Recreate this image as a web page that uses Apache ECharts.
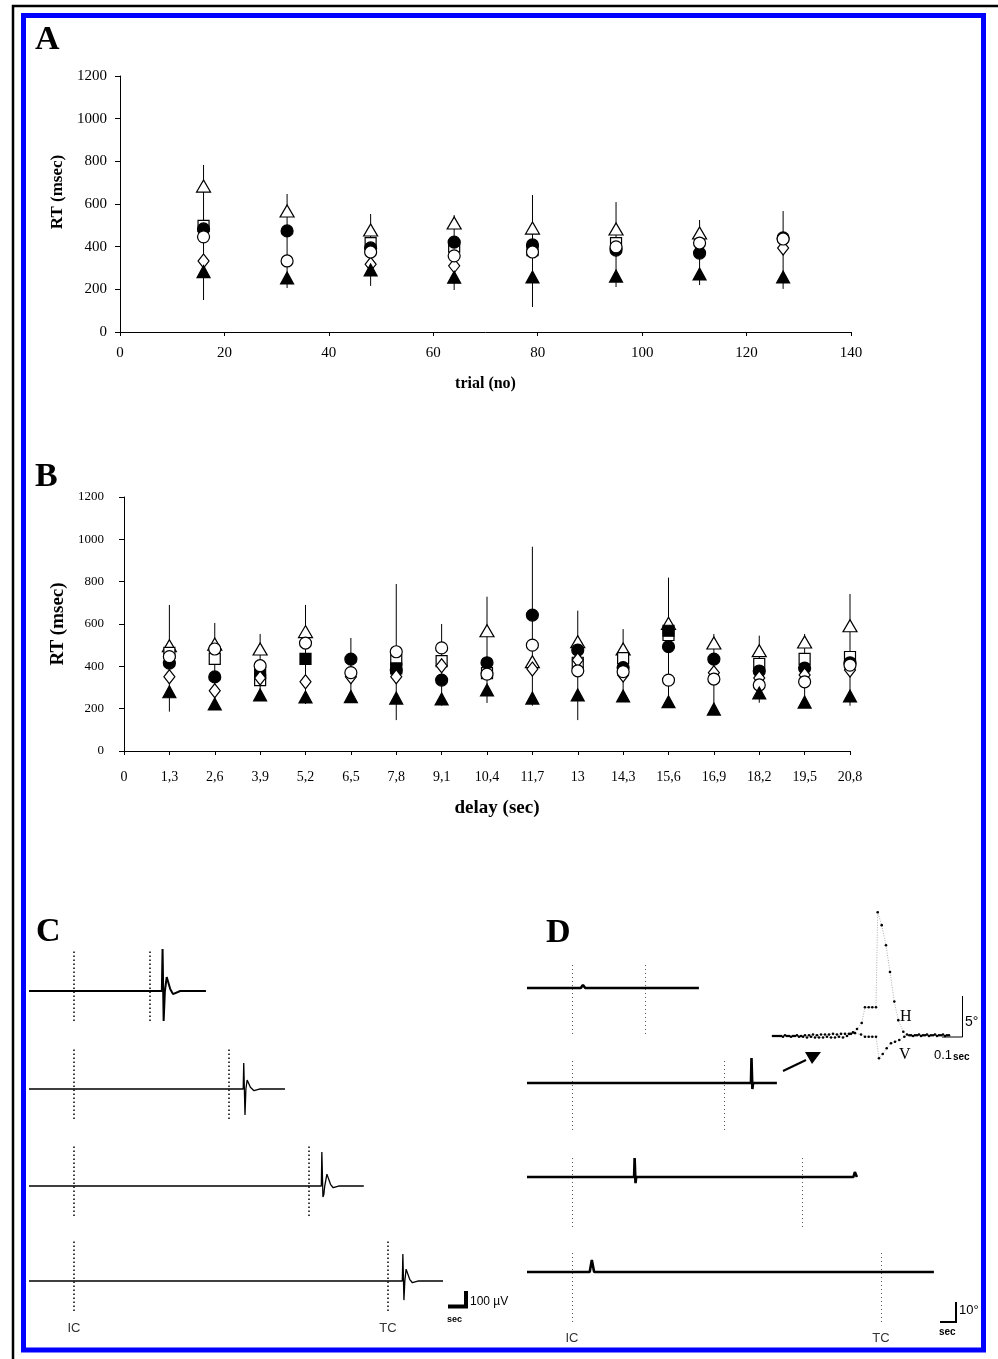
<!DOCTYPE html>
<html><head><meta charset="utf-8">
<script src="https://cdn.jsdelivr.net/npm/echarts/dist/echarts.min.js"></script>
<style>html,body{margin:0;padding:0;background:#fff}#c{width:998px;height:1359px}</style>
</head><body><div id="c"></div><script>
const SERIF = "'Liberation Serif','Times New Roman',serif";
const SANS = "'Liberation Sans',Arial,sans-serif";

// ---------- Panel A data (RT msec vs trial no) ----------
const trialX      = [16, 32, 48, 64, 79, 95, 111, 127];
const aOpenTri    = [684, 567, 478, 511, 487, 483, 464, null];
const aOpenSq     = [497, null, 417, 400, 384, 417, null, null];
const aFillCirc   = [483, 474, 394, 421, 408, 384, 370, 441];
const aDiamond    = [333, null, 318, 310, null, null, null, 394];
const aOpenCirc   = [446, 333, 375, 357, 375, 399, 417, 436];
const aFillTri    = [283, 253, 291, 257, 258, 262, 272, 258];
const aErrLow     = [150, 206, 216, 197, 117, 211, 220, 202];
const aErrHigh    = [783, 647, 553, 548, 642, 609, 525, 567];

// ---------- Panel B data (RT msec vs delay sec) ----------
const delayLabels = ['0','1,3','2,6','3,9','5,2','6,5','7,8','9,1','10,4','11,7','13','14,3','15,6','16,9','18,2','19,5','20,8'];
// values for delays 1,3 ... 20,8
const bOpenTri    = [497, 505, 482, 564, null, null, null, 568, 422, 516, 482, 603, 510, 474, 515, 592];
const bOpenSq     = [464, 435, 335, null, null, 430, 425, 368, null, 417, 439, 548, null, 411, 435, 444];
const bFillSq     = [null, null, 368, 435, null, 390, null, null, null, null, null, 568, null, null, null, null];
const bFillCirc   = [415, 350, null, null, 434, 383, 335, 417, 642, 477, 394, 493, 434, 378, 392, 417];
const bDiamond    = [351, 285, 345, 327, 351, 351, 403, null, 387, 430, 359, null, 370, 345, 359, 383];
const bOpenCirc   = [446, 482, 403, 510, 370, 469, 487, 363, 500, 379, 375, 335, 340, 312, 327, 406];
const bFillTri    = [280, 222, 265, 255, 257, 250, 246, 288, 250, 265, 260, 233, 198, 274, 231, 260];
const bErrLow     = [186, 200, 241, 222, 227, 146, 214, 227, 214, 146, 233, 203, 179, 228, 203, 214];
const bErrHigh    = [690, 605, 553, 690, 534, 789, 600, 729, 965, 663, 576, 819, 553, 545, 553, 742];

// ---------- Panel C traces: [time s from IC, microvolts] ----------
const cTrace1 = [[-2.5,0],[4.88,0],[4.92,247],[4.98,-176],[5.05,0],[5.15,82],[5.35,10],[5.5,-18],[5.9,0],[7.33,0]];
const cTrace2 = [[-2.5,0],[9.40,0],[9.43,153],[9.50,-153],[9.55,0],[9.62,53],[9.8,10],[10.0,-10],[10.3,0],[11.72,0]];
const cTrace3 = [[-2.5,0],[13.74,0],[13.77,200],[13.83,-65],[13.88,-50],[13.93,0],[14.05,70],[14.25,10],[14.4,-10],[14.7,0],[16.1,0]];
const cTrace4 = [[-2.5,0],[18.24,0],[18.27,159],[18.33,-112],[18.38,0],[18.45,70],[18.65,10],[18.8,-10],[19.1,0],[20.5,0]];
const cTC = [4.22, 8.61, 13.06, 17.44];

// ---------- Panel D traces: [time s from IC, degrees] ----------
const dTrace1 = [[-2.53,0],[0.5,0],[0.62,1.6],[0.75,0],[7.15,0]];
const dTrace2 = [[-2.53,0],[10.08,0],[10.11,13.2],[10.16,-3.2],[10.2,0],[11.54,0]];
const dTrace3 = [[-2.53,0],[3.50,0],[3.53,10],[3.58,-3.2],[3.62,0],[15.85,0],[15.93,2.6],[16.0,1],[16.05,0]];
const dTrace4 = [[-2.53,0],[1.0,0],[1.12,6.3],[1.25,0],[20.38,0]];
const dTC = [4.11, 8.56, 12.95, 17.4];

// ---------- Panel D inset: eye position H and V [s, deg] ----------
const insetH = [[0,0],[0.02,0],[0.04,0],[0.06,0.1],[0.08,0],[0.10,0],[0.12,0.1],[0.14,0],[0.16,0.1],[0.18,0.1],[0.20,0.2],[0.22,0.1],[0.24,0.2],[0.26,0.2],[0.28,0.2],[0.30,0.3],[0.32,0.2],[0.34,0.3],[0.36,0.3],[0.38,0.3],[0.40,0.5],[0.42,0.97],
  [0.4435,1.8],[0.46,4.0],[0.4785,4.0],[0.4965,4.0],[0.515,4.0],[0.5235,17.2],[0.5435,15.4],[0.565,12.6],[0.585,8.9],[0.6065,4.8],[0.6265,2.2],[0.6515,0.6],[0.67,0.2],
  [0.69,0.1],[0.71,0.1],[0.73,0.2],[0.75,0.1],[0.77,0.2],[0.79,0.1],[0.81,0.2],[0.83,0.1],[0.85,0.2],[0.87,0.1]];
const insetV = [[0.01,0],[0.03,0],[0.05,-0.1],[0.07,0],[0.09,-0.1],[0.11,0],[0.13,-0.1],[0.15,-0.1],[0.17,-0.2],[0.19,-0.1],[0.21,-0.2],[0.23,-0.2],[0.25,-0.2],[0.27,-0.1],[0.29,-0.2],[0.31,-0.2],[0.33,-0.1],[0.35,-0.2],[0.37,0],[0.39,0.3],[0.41,0.4],
  [0.44,0.2],[0.46,-0.1],[0.4785,-0.1],[0.4965,-0.1],[0.515,-0.1],[0.53,-3.1],[0.5485,-2.5],[0.5685,-1.7],[0.59,-1.0],[0.61,-0.8],[0.6315,-0.55],[0.6565,-0.1],[0.6815,0.1],
  [0.70,0],[0.72,0.1],[0.74,0],[0.76,0.1],[0.78,0],[0.80,0.1],[0.82,0],[0.84,0.1],[0.86,0],[0.88,0.1]];

// ---------- layout ----------
const cBase = [991, 1089, 1186, 1281];
const dBase = [988, 1083, 1177, 1272];
const dTopOff = [24, 23, 20, 20];
const C_PX_PER_S = 18, D_PX_PER_S = 17.76;

const grids = [], xAxes = [], yAxes = [], series = [];
const plain = v => String(v);

// Grid A
grids.push({left:120, top:76, width:731, height:256});
xAxes.push({gridIndex:0, type:'value', min:0, max:140, interval:20,
  axisLine:{show:true, onZero:false, lineStyle:{color:'#000',width:1}},
  axisTick:{show:true, length:4, lineStyle:{color:'#000'}},
  splitLine:{show:false},
  axisLabel:{color:'#000', fontFamily:SERIF, fontSize:15, margin:14, formatter:plain},
  name:'trial (no)', nameLocation:'middle', nameGap:44,
  nameTextStyle:{color:'#000', fontFamily:SERIF, fontSize:16, fontWeight:'bold'}});
yAxes.push({gridIndex:0, type:'value', min:0, max:1200, interval:200,
  axisLine:{show:true, lineStyle:{color:'#000',width:1}},
  axisTick:{show:true, length:5, lineStyle:{color:'#000'}},
  splitLine:{show:false},
  axisLabel:{color:'#000', fontFamily:SERIF, fontSize:15, margin:13, formatter:plain},
  name:'RT (msec)', nameLocation:'middle', nameGap:54,
  nameTextStyle:{color:'#000', fontFamily:SERIF, fontSize:17, fontWeight:'bold', padding:[0,0,0,24]}});

// Grid B
grids.push({left:124, top:497, width:726, height:254});
xAxes.push({gridIndex:1, type:'category', data:delayLabels, boundaryGap:false,
  axisLine:{show:true, onZero:false, lineStyle:{color:'#000',width:1}},
  axisTick:{show:true, length:4, interval:0, lineStyle:{color:'#000'}},
  splitLine:{show:false},
  axisLabel:{color:'#000', fontFamily:SERIF, fontSize:14, margin:19, interval:0},
  name:'delay (sec)', nameLocation:'middle', nameGap:48,
  nameTextStyle:{color:'#000', fontFamily:SERIF, fontSize:19, fontWeight:'bold', padding:[0,0,0,20]}});
yAxes.push({gridIndex:1, type:'value', min:0, max:1200, interval:200,
  axisLine:{show:true, lineStyle:{color:'#000',width:1}},
  axisTick:{show:true, length:5, lineStyle:{color:'#000'}},
  splitLine:{show:false},
  axisLabel:{color:'#000', fontFamily:SERIF, fontSize:13, margin:20, formatter:plain},
  name:'RT (msec)', nameLocation:'middle', nameGap:52,
  nameTextStyle:{color:'#000', fontFamily:SERIF, fontSize:19, fontWeight:'bold'}});

const marks = {
  openTri:  {symbol:'triangle', size:[14,12], fill:'#fff'},
  openSq:   {symbol:'rect',     size:11,      fill:'#fff'},
  fillSq:   {symbol:'rect',     size:11,      fill:'#000'},
  fillCirc: {symbol:'circle',   size:12,      fill:'#000'},
  diam:     {symbol:'diamond',  size:[11,14], fill:'#fff'},
  openCirc: {symbol:'circle',   size:12,      fill:'#fff'},
  fillTri:  {symbol:'triangle', size:[13,12], fill:'#000'}
};
function errSeries(gi, xs, lo, hi){
  series.push({type:'custom', xAxisIndex:gi, yAxisIndex:gi, z:1, silent:true,
    data: xs.map((x,i)=>[x, lo[i], hi[i]]), encode:{x:0, y:[1,2]},
    renderItem:(p, api)=>{
      const a = api.coord([api.value(0), api.value(1)]);
      const b = api.coord([api.value(0), api.value(2)]);
      return {type:'line', shape:{x1:a[0],y1:a[1],x2:b[0],y2:b[1]}, style:{stroke:'#000', lineWidth:1}};
    }});
}
function markSeries(gi, xs, ys, key, z){
  const m = marks[key];
  series.push({type:'scatter', xAxisIndex:gi, yAxisIndex:gi, z:z, silent:true,
    symbol:m.symbol, symbolSize:m.size,
    itemStyle:{color:m.fill, borderColor:'#000', borderWidth:1.2, opacity:1},
    data: xs.map((x,i)=> ys[i]==null ? null : [x, ys[i]]).filter(Boolean)});
}
errSeries(0, trialX, aErrLow, aErrHigh);
markSeries(0, trialX, aOpenTri, 'openTri', 2);
markSeries(0, trialX, aOpenSq, 'openSq', 3);
markSeries(0, trialX, aFillCirc, 'fillCirc', 4);
markSeries(0, trialX, aDiamond, 'diam', 5);
markSeries(0, trialX, aOpenCirc, 'openCirc', 6);
markSeries(0, trialX, aFillTri, 'fillTri', 7);

const bIdx = delayLabels.slice(1).map((_, i) => i + 1);
errSeries(1, bIdx, bErrLow, bErrHigh);
markSeries(1, bIdx, bOpenTri, 'openTri', 2);
markSeries(1, bIdx, bOpenSq, 'openSq', 3);
markSeries(1, bIdx, bFillSq, 'fillSq', 3);
markSeries(1, bIdx, bFillCirc, 'fillCirc', 4);
markSeries(1, bIdx, bDiamond, 'diam', 5);
markSeries(1, bIdx, bOpenCirc, 'openCirc', 6);
markSeries(1, bIdx, bFillTri, 'fillTri', 7);

// Panel C traces
const cTraces = [cTrace1, cTrace2, cTrace3, cTrace4];
const C_MIN_T = -2.5, C_MAX_T = 22;
cTraces.forEach((tr, k) => {
  const gi = grids.length;
  grids.push({left:29, top:cBase[k]-40, width:(C_MAX_T-C_MIN_T)*C_PX_PER_S, height:70});
  xAxes.push({gridIndex:gi, type:'value', min:C_MIN_T, max:C_MAX_T, show:false});
  yAxes.push({gridIndex:gi, type:'value', min:-176, max:235, show:false});
  const last = k === cTraces.length - 1;
  const lbl = (t)=>({show:last, formatter:t, position:'start', distance:11, color:'#333', fontFamily:SANS, fontSize:13});
  series.push({type:'line', xAxisIndex:gi, yAxisIndex:gi, data:tr, symbol:'none', clip:false, silent:true,
    lineStyle:{color:'#000', width: k===0 ? 2 : 1.3},
    markLine:{symbol:'none', silent:true, animation:false,
      lineStyle:{type:[1.5,2.5], color:'#000', width:1.5},
      data:[{xAxis:0, label:lbl('IC')},{xAxis:cTC[k], label:lbl('TC')}]}});
});

// Panel D traces
const dTraces = [dTrace1, dTrace2, dTrace3, dTrace4];
const D_MIN_T = -2.53, D_MAX_T = 21.5, D_PX_PER_DEG = 1.9;
dTraces.forEach((tr, k) => {
  const gi = grids.length;
  grids.push({left:527, top:dBase[k]-dTopOff[k], width:(D_MAX_T-D_MIN_T)*D_PX_PER_S, height:70});
  xAxes.push({gridIndex:gi, type:'value', min:D_MIN_T, max:D_MAX_T, show:false});
  yAxes.push({gridIndex:gi, type:'value', min:-(70-dTopOff[k])/D_PX_PER_DEG, max:dTopOff[k]/D_PX_PER_DEG, show:false});
  const last = k === dTraces.length - 1;
  const lbl = (t)=>({show:last, formatter:t, position:'start', distance:10, color:'#333', fontFamily:SANS, fontSize:13});
  series.push({type:'line', xAxisIndex:gi, yAxisIndex:gi, data:tr, symbol:'none', clip:false, silent:true,
    lineStyle:{color:'#000', width:2.6},
    markLine:{symbol:'none', silent:true, animation:false,
      lineStyle:{type:[1,3], color:'#555', width:1},
      data:[{xAxis:0, label:lbl('IC')},{xAxis:dTC[k], label:lbl('TC')}]}});
});

// Inset
{
  const gi = grids.length;
  grids.push({left:773, top:905, width:180, height:160});
  xAxes.push({gridIndex:gi, type:'value', min:0, max:0.9, show:false});
  yAxes.push({gridIndex:gi, type:'value', min:-4.03, max:18.2, show:false});
  [insetH, insetV].forEach(d => series.push({type:'line', xAxisIndex:gi, yAxisIndex:gi, data:d, clip:false, silent:true,
    symbol:'circle', symbolSize:2.6, showSymbol:true, itemStyle:{color:'#000'},
    lineStyle:{color:'#999', width:0.8, type:[1,1.5]}}));
}

const txt = (t, x, y, font, align, extra) => Object.assign({type:'text', silent:true,
  style:{text:t, x:x, y:y, font:font, fill:'#000', align:align||'left', verticalAlign:'middle'}}, extra||{});

const graphic = [
  {type:'polyline', silent:true, shape:{points:[[13,1365],[13,6],[1005,6]]}, style:{stroke:'#000', lineWidth:2.5, fill:null}},
  {type:'rect', silent:true, shape:{x:23.5, y:15.5, width:960, height:1334.5}, style:{stroke:'#0000ff', lineWidth:5, fill:null}},
  txt('A', 35, 40, "bold 34px "+SERIF),
  txt('B', 35, 477, "bold 34px "+SERIF),
  txt('C', 36, 932, "bold 34px "+SERIF),
  txt('D', 546, 933, "bold 34px "+SERIF),
  // C scale bar
  {type:'polyline', silent:true, shape:{points:[[448,1306.5],[466,1306.5],[466,1291]]}, style:{stroke:'#000', lineWidth:4, fill:null}},
  txt('100 µV', 470, 1302, "12px "+SANS),
  txt('sec', 447, 1320, "bold 9px "+SANS),
  // D scale bar
  {type:'polyline', silent:true, shape:{points:[[940,1322],[956,1322],[956,1302]]}, style:{stroke:'#000', lineWidth:2, fill:null}},
  txt('10°', 959, 1310, "13px "+SANS),
  txt('sec', 939, 1332, "bold 10px "+SANS),
  // Inset scale bar & labels
  {type:'polyline', silent:true, shape:{points:[[942,1037],[962.5,1037],[962.5,996]]}, style:{stroke:'#000', lineWidth:1, fill:null}},
  txt('5°', 965, 1022, "14px "+SANS),
  txt('0.1', 934, 1055, "13px "+SANS),
  txt('sec', 953, 1057, "bold 10px "+SANS),
  txt('H', 900, 1017, "16px "+SERIF),
  txt('V', 899, 1055, "16px "+SERIF),
  // arrow
  {type:'line', silent:true, shape:{x1:783, y1:1071, x2:806, y2:1060}, style:{stroke:'#000', lineWidth:2}},
  {type:'polygon', silent:true, shape:{points:[[805,1052],[821,1052],[812,1064]]}, style:{fill:'#000'}}
];

const chart = echarts.init(document.getElementById('c'), null, {renderer:'canvas'});
chart.setOption({
  backgroundColor:'#fff', animation:false,
  grid:grids, xAxis:xAxes, yAxis:yAxes, series:series, graphic:graphic,
  tooltip:{show:false}, legend:{show:false}
});
</script></body></html>
